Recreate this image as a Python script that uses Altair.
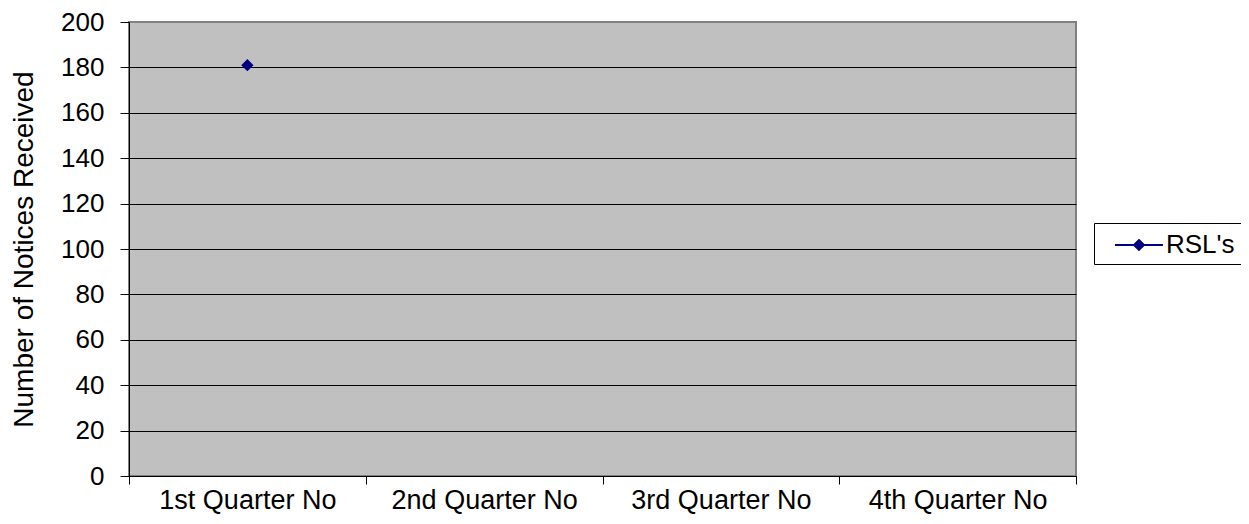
import altair as alt
import pandas as pd

quarters = ["1st Quarter No", "2nd Quarter No", "3rd Quarter No", "4th Quarter No"]
series_name = "RSL's"
values = [181, None, None, None]
y_ticks = [0, 20, 40, 60, 80, 100, 120, 140, 160, 180, 200]

df = pd.DataFrame({"quarter": quarters, "value": values, "series": [series_name] * len(quarters)})
df = df.dropna()

FONT = "Liberation Sans"

legend_path = "M-0.07,0L3.13,0M1.53,-0.33L1.86,0L1.53,0.33L1.2,0Z"

chart = alt.Chart(df).mark_point(
    shape="diamond", filled=True, size=150, opacity=1
).encode(
    x=alt.X(
        "quarter:N",
        scale=alt.Scale(domain=quarters, paddingInner=0, paddingOuter=0),
        axis=alt.Axis(
            title=None, labelAngle=0, tickBand="extent", grid=False,
            domainColor="black", tickColor="black", tickSize=8,
            labelFont=FONT, labelFontSize=27, labelColor="black", labelPadding=3,
            labelLimit=0,
        ),
    ),
    y=alt.Y(
        "value:Q",
        scale=alt.Scale(domain=[0, 200], nice=False),
        axis=alt.Axis(
            title="Number of Notices Received", values=y_ticks,
            titleFont=FONT, titleFontSize=28, titleFontWeight="normal", titleColor="black",
            titlePadding=22,
            labelFont=FONT, labelFontSize=26, labelColor="black", labelPadding=16,
            domainColor="black", tickColor="black", tickSize=9,
            grid=True,
            gridColor={"condition": {"test": "datum.value === 200", "value": "#808080"}, "value": "black"},
            gridWidth=1,
        ),
    ),
    color=alt.Color(
        "series:N",
        scale=alt.Scale(domain=[series_name], range=["#000080"]),
        legend=alt.Legend(
            title=None, orient="none", legendX=965, legendY=201,
            symbolType=legend_path, symbolSize=900,
            symbolStrokeColor="#000080", symbolFillColor="#000080", symbolStrokeWidth=2,
            labelFont=FONT, labelFontSize=26, labelColor="black", labelOffset=34,
            strokeColor="black", fillColor="white", padding=6,
        ),
    ),
).properties(
    width=947, height=454,
    autosize=alt.AutoSizeParams(type="none"),
    padding={"left": 121, "top": 14, "right": 165, "bottom": 40},
).configure(
    background="white"
).configure_view(
    fill="#C0C0C0", stroke="#808080", strokeWidth=2,
)

chart.save("out.html", embed_options={"renderer": "svg", "actions": False})
